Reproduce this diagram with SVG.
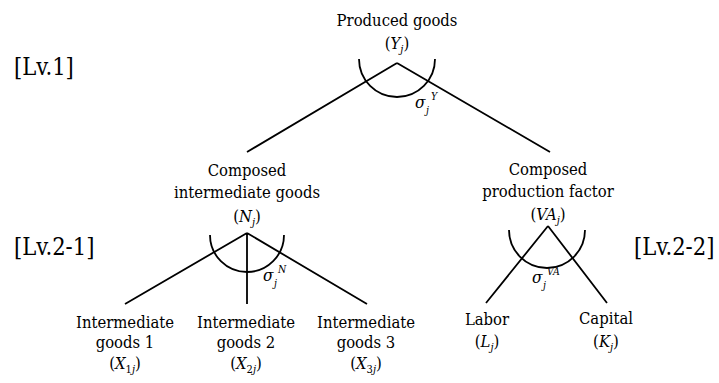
<svg xmlns="http://www.w3.org/2000/svg" width="719" height="383" viewBox="0 0 719 383">
<style>
text{fill:#000;font-family:"DejaVu Serif Condensed","DejaVu Serif",serif;font-stretch:condensed}
.n{font-size:16.5px;text-anchor:middle}
.lv{font-size:23.5px}
.i{font-style:italic}
.s{font-size:11px}
.sg{font-size:17px;font-style:italic}
.sup{font-size:10.5px;font-style:italic}
.c path{fill:none;stroke:#000;stroke-width:1.8}
</style>
<rect width="719" height="383" fill="#fff"/>
<g class="c" id="connectors">
<path d="M397 63 L247 152 M397 63 L550 152"/>
<path d="M359 59 A38 38 0 1 0 435 59"/>
<path d="M247 233 L125 304 M247 233 L247 304 M247 233 L367 304"/>
<path d="M210 235 A37 37 0 0 0 284 235"/>
<path d="M548 226 L486 303 M548 226 L607 303"/>
<path d="M509 230 A38 38 0 0 0 585 230"/>
</g>
<g id="sigmaY"><text x="415" y="108" class="sg">σ</text><text x="426" y="114" class="sup">j</text><text x="431" y="100" class="sup">Y</text></g>
<g id="sigmaN"><text x="263" y="281" class="sg">σ</text><text x="274" y="287" class="sup">j</text><text x="278" y="273" class="sup">N</text></g>
<g id="sigmaVA"><text x="532" y="283" class="sg">σ</text><text x="543" y="289" class="sup">j</text><text x="547" y="275" class="sup">VA</text></g>
<g id="lv1"><text x="14" y="75" class="lv">[Lv.1]</text></g>
<g id="lv21"><text x="14" y="255" class="lv">[Lv.2-1]</text></g>
<g id="lv22"><text x="634" y="255" class="lv">[Lv.2-2]</text></g>
<g id="produced">
<text x="397" y="26" class="n">Produced goods</text>
<text x="397" y="49" class="n">(<tspan class="i">Y</tspan><tspan class="i s" dy="4">j</tspan><tspan dy="-4">)</tspan></text>
</g>
<g id="composedN">
<text x="247" y="176" class="n">Composed</text>
<text x="247" y="198" class="n">intermediate goods</text>
<text x="247" y="222" class="n">(<tspan class="i">N</tspan><tspan class="i s" dy="4">j</tspan><tspan dy="-4">)</tspan></text>
</g>
<g id="composedVA">
<text x="548" y="175" class="n">Composed</text>
<text x="548" y="197" class="n">production factor</text>
<text x="548" y="220" class="n">(<tspan class="i">VA</tspan><tspan class="i s" dy="4">j</tspan><tspan dy="-4">)</tspan></text>
</g>
<g id="x1">
<text x="125" y="328" class="n">Intermediate</text>
<text x="125" y="348" class="n">goods 1</text>
<text x="125" y="369" class="n">(<tspan class="i">X</tspan><tspan class="s" dy="4">1</tspan><tspan class="i s">j</tspan><tspan dy="-4">)</tspan></text>
</g>
<g id="x2">
<text x="246" y="328" class="n">Intermediate</text>
<text x="246" y="348" class="n">goods 2</text>
<text x="246" y="369" class="n">(<tspan class="i">X</tspan><tspan class="s" dy="4">2</tspan><tspan class="i s">j</tspan><tspan dy="-4">)</tspan></text>
</g>
<g id="x3">
<text x="366" y="328" class="n">Intermediate</text>
<text x="366" y="348" class="n">goods 3</text>
<text x="366" y="369" class="n">(<tspan class="i">X</tspan><tspan class="s" dy="4">3</tspan><tspan class="i s">j</tspan><tspan dy="-4">)</tspan></text>
</g>
<g id="labor">
<text x="487" y="325" class="n">Labor</text>
<text x="487" y="347" class="n">(<tspan class="i">L</tspan><tspan class="i s" dy="4">j</tspan><tspan dy="-4">)</tspan></text>
</g>
<g id="capital">
<text x="606" y="324" class="n">Capital</text>
<text x="606" y="347" class="n">(<tspan class="i">K</tspan><tspan class="i s" dy="4">j</tspan><tspan dy="-4">)</tspan></text>
</g>
</svg>
